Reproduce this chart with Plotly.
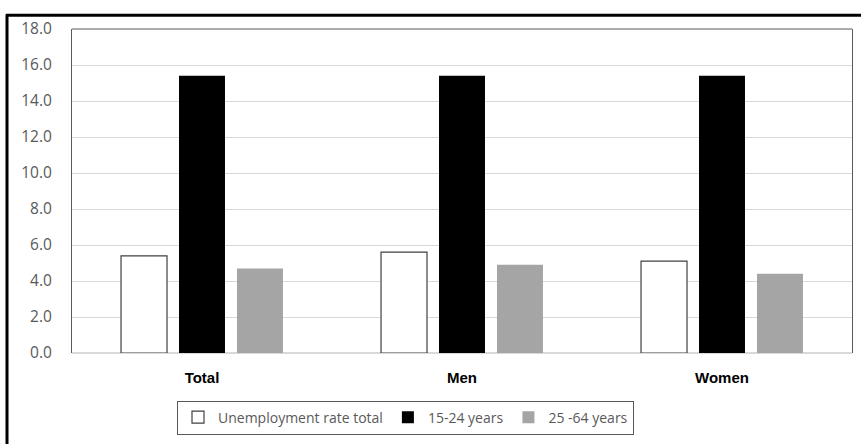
import plotly.graph_objects as go

# Unemployment rate (%) by group
categories = ["Total", "Men", "Women"]
series_names = ["Unemployment rate total", "15-24 years", "25 -64 years"]
rate_total = [5.4, 5.6, 5.1]
rate_15_24 = [15.4, 15.4, 15.4]
rate_25_64 = [4.7, 4.9, 4.4]

y_ticks = [0, 2, 4, 6, 8, 10, 12, 14, 16, 18]
y_tick_text = [f"{v:.1f}" for v in y_ticks]

W, H = 861, 444
M_L, M_R, M_T, M_B = 72, 9, 29, 88
PW = W - M_L - M_R
PH = H - M_T - M_B


def px_x(x):
    return (x - M_L) / PW


def px_y(y):
    return (H - M_B - y) / PH


fig = go.Figure()
fig.add_trace(go.Bar(
    name=series_names[0], x=categories, y=rate_total,
    marker=dict(color="white", line=dict(color="#404040", width=1.2)),
))
fig.add_trace(go.Bar(
    name=series_names[1], x=categories, y=rate_15_24,
    marker=dict(color="black", line=dict(width=0)),
))
fig.add_trace(go.Bar(
    name=series_names[2], x=categories, y=rate_25_64,
    marker=dict(color="#a5a5a5", line=dict(width=0)),
))

tick_font = dict(family="Open Sans, Noto Sans, sans-serif", size=15.5, color="#595959")

fig.update_layout(
    width=W, height=H,
    margin=dict(l=M_L, r=M_R, t=M_T, b=M_B),
    paper_bgcolor="white", plot_bgcolor="white",
    barmode="group", bargap=0.331, bargroupgap=0.207,
    showlegend=True,
    legend=dict(
        orientation="h",
        x=px_x(177), xanchor="left",
        y=px_y(404), yanchor="top",
        bordercolor="#595959", borderwidth=1,
        font=dict(family="Open Sans, Noto Sans, sans-serif", size=14, color="#595959"),
        itemwidth=30,
        traceorder="normal",
    ),
    xaxis=dict(
        showgrid=False, zeroline=False,
        showline=False, ticks="", ticklabelstandoff=14,
        tickfont=dict(family="Liberation Sans, Arial, sans-serif", size=15, color="black",
                      weight="bold"),
    ),
    yaxis=dict(
        range=[0, 18], tickvals=y_ticks, ticktext=y_tick_text,
        showgrid=True, gridcolor="#d9d9d9", gridwidth=1,
        zeroline=True, zerolinecolor="#d9d9d9", zerolinewidth=1.5,
        showline=True, linecolor="#595959", linewidth=1, mirror=True,
        ticks="", ticklabelstandoff=16,
        tickfont=tick_font,
    ),
    shapes=[
        # top edge of the plot frame
        dict(type="line", xref="paper", yref="paper", x0=0, x1=1, y0=1, y1=1,
             line=dict(color="#595959", width=1)),
        # outer figure frame (top and left)
        dict(type="line", xref="paper", yref="paper",
             x0=px_x(6), x1=px_x(W + 5), y0=px_y(15), y1=px_y(15),
             line=dict(color="black", width=3)),
        dict(type="line", xref="paper", yref="paper",
             x0=px_x(7), x1=px_x(7), y0=px_y(14), y1=px_y(H + 5),
             line=dict(color="black", width=3)),
    ],
)

fig.write_html("out.html")
